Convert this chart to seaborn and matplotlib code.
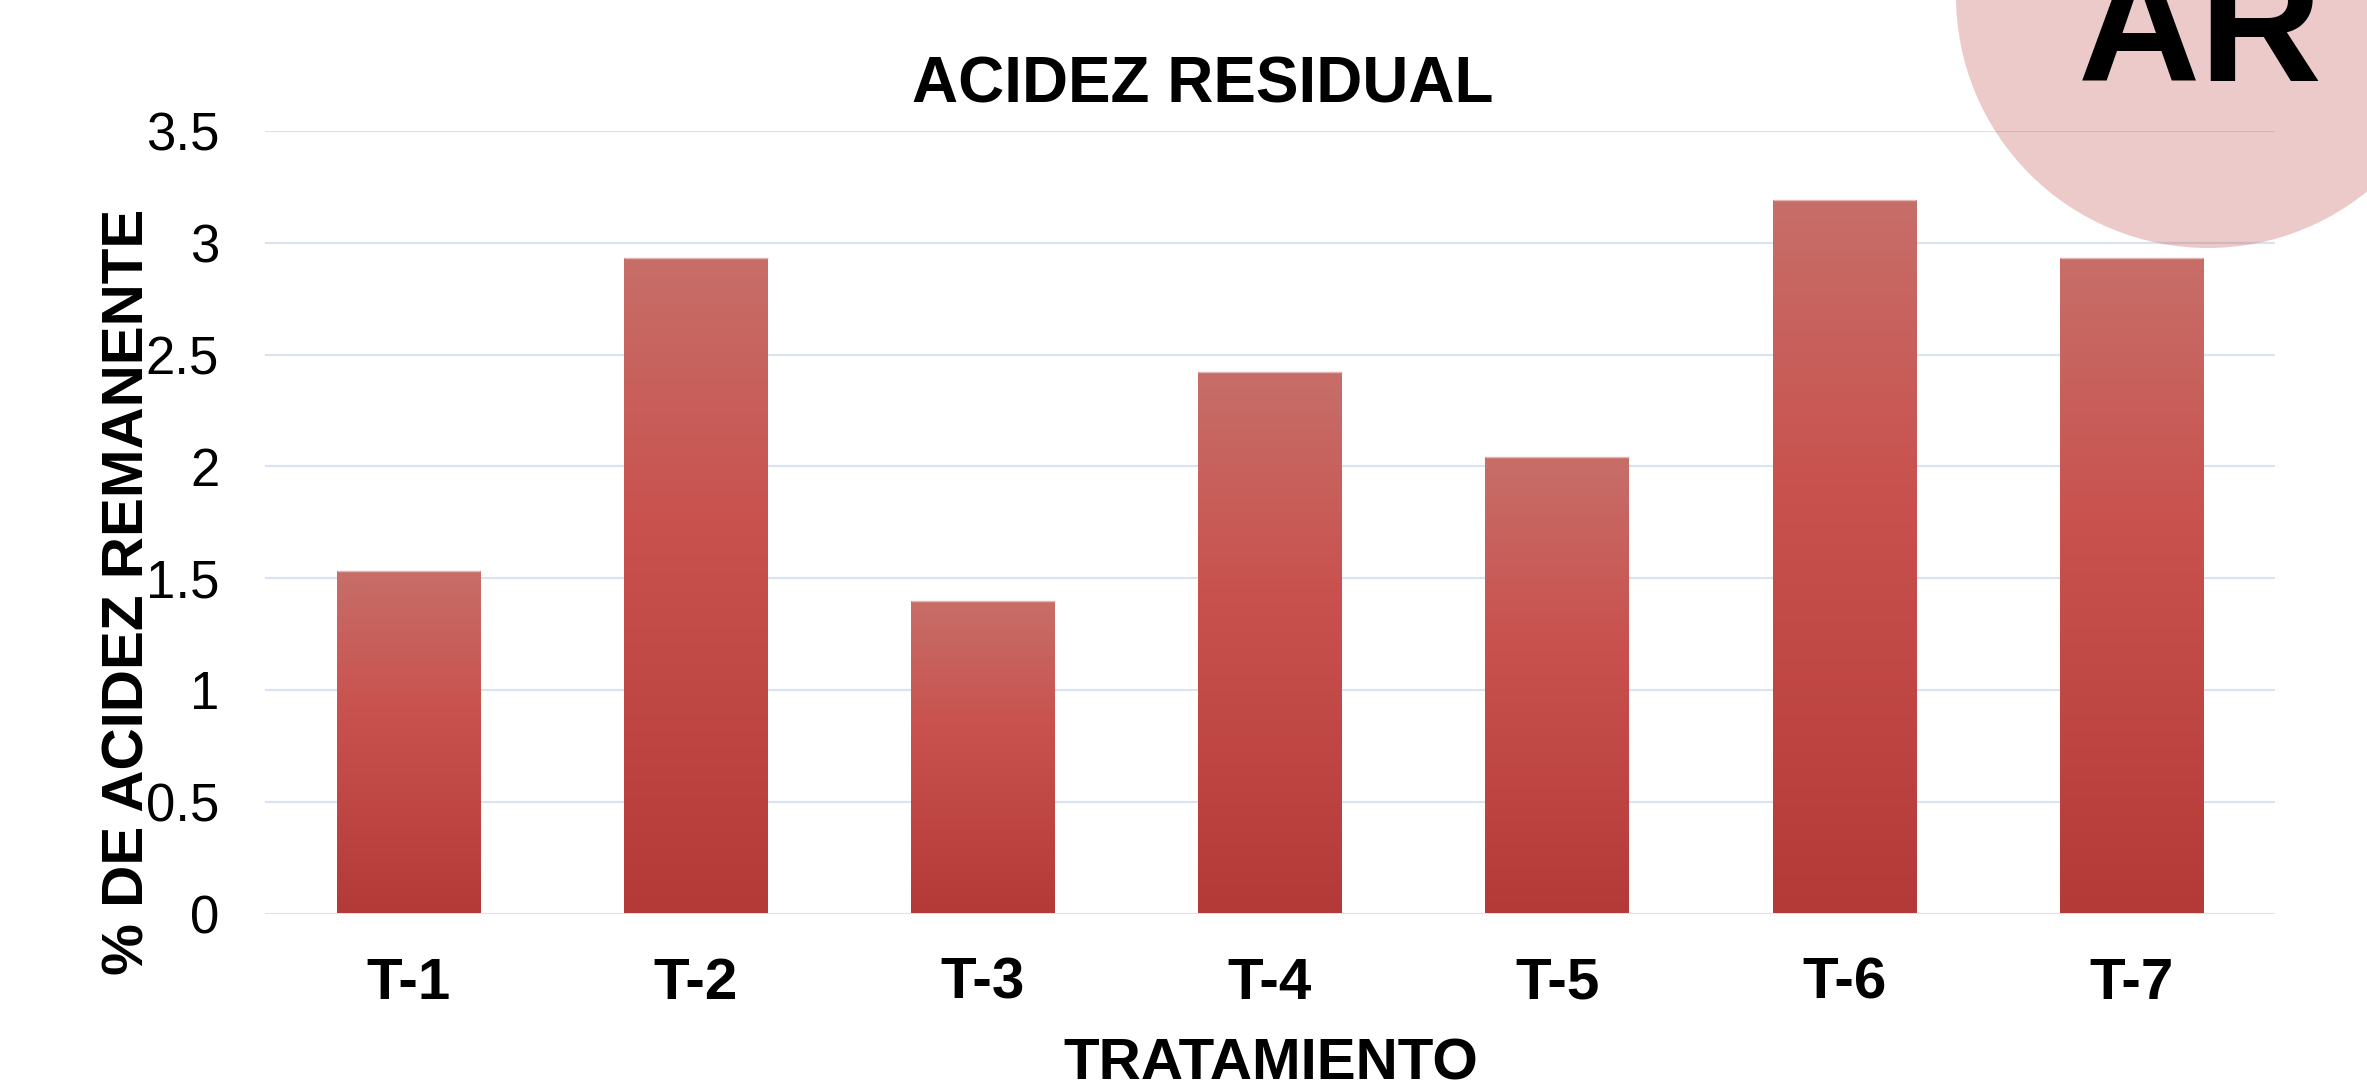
import numpy as np
import pandas as pd
import matplotlib
matplotlib.use("Agg")
import matplotlib.pyplot as plt
from matplotlib.colors import LinearSegmentedColormap
from matplotlib.patches import Ellipse
import seaborn as sns

# ---- data ----
categories = ["T-1", "T-2", "T-3", "T-4", "T-5", "T-6", "T-7"]
values = [1.53, 2.93, 1.40, 2.42, 2.04, 3.19, 2.93]
yticks = [0, 0.5, 1, 1.5, 2, 2.5, 3, 3.5]
ytick_labels = ["0", "0.5", "1", "1.5", "2", "2.5", "3", "3.5"]
title = "ACIDEZ RESIDUAL"
xlabel = "TRATAMIENTO"
ylabel = "% DE ACIDEZ REMANENTE"
badge = "AR"

sns.set_theme(style="white")
plt.rcParams["font.family"] = ["Liberation Sans", "DejaVu Sans"]

W, H, DPI = 2367, 1089, 100
fig = plt.figure(figsize=(W / DPI, H / DPI), dpi=DPI, facecolor="white")
ax = fig.add_axes([265 / W, 1 - 913.5 / H, (2275 - 265) / W, (913.5 - 131) / H])

df = pd.DataFrame({"cat": categories, "val": values})
sns.barplot(data=df, x="cat", y="val", width=0.5, color="#C0504D", ax=ax,
            saturation=1, errorbar=None)

# vertical gradient fill inside each bar
cmap = LinearSegmentedColormap.from_list(
    "bargrad", [(0.0, "#B43A38"), (0.6, "#C9524E"), (1.0, "#C76E69")])
grad = np.linspace(0, 1, 256).reshape(-1, 1)
for p in ax.patches:
    x0, y0 = p.get_x(), p.get_y()
    w, h = p.get_width(), p.get_height()
    im = ax.imshow(grad, cmap=cmap, aspect="auto", origin="lower",
                   extent=[x0, x0 + w, y0, y0 + h], zorder=2, interpolation="bilinear")
    im.set_clip_path(p)
    p.set_facecolor("none")
    p.set_edgecolor("none")
    # thin pale highlight along the top edge of the bar
    ax.plot([x0, x0 + w], [y0 + h, y0 + h], color="#E2B4B2", linewidth=1.0,
            zorder=3, solid_capstyle="butt")

ax.set_xlim(-0.5, len(categories) - 0.5)
ax.set_ylim(0, 3.5)
ax.set_yticks(yticks)
ax.set_yticklabels(ytick_labels)
ax.yaxis.grid(True, color="#D9E4F2", linewidth=1.6, zorder=0)
ax.xaxis.grid(False)
ax.set_axisbelow(True)
for s in ax.spines.values():
    s.set_visible(False)
ax.tick_params(axis="y", length=0, pad=33, labelsize=38, labelcolor="black")
ax.tick_params(axis="x", length=0, pad=31, labelsize=42, labelcolor="black")
for t in ax.get_xticklabels():
    t.set_fontweight("bold")
ax.set_xlabel("")
ax.set_ylabel("")

# titles / labels
fig.text(1203 / W, 1 - 102.7 / H, title, ha="center", va="baseline",
         fontsize=46, fontweight="bold", color="black")
fig.text(1270.5 / W, 1 - 1080 / H, xlabel, ha="center", va="baseline",
         fontsize=42, fontweight="bold", color="black")
fig.text(143.3 / W, 1 - 592 / H, ylabel, ha="center", va="baseline",
         rotation=90, rotation_mode="anchor",
         fontsize=42, fontweight="bold", color="black")

# decorative badge
circ = Ellipse((2208 / W, 1 - (-4) / H), 2 * 252 / W, 2 * 252 / H,
               transform=fig.transFigure, facecolor="#C0504D", alpha=0.3,
               edgecolor="none", zorder=5)
fig.patches.append(circ)
fig.text(2200 / W, 1 - 81 / H, badge, ha="center", va="baseline",
         fontsize=122, fontweight="bold", color="black", zorder=6)

fig.savefig("out.png", dpi=DPI, facecolor="white")
